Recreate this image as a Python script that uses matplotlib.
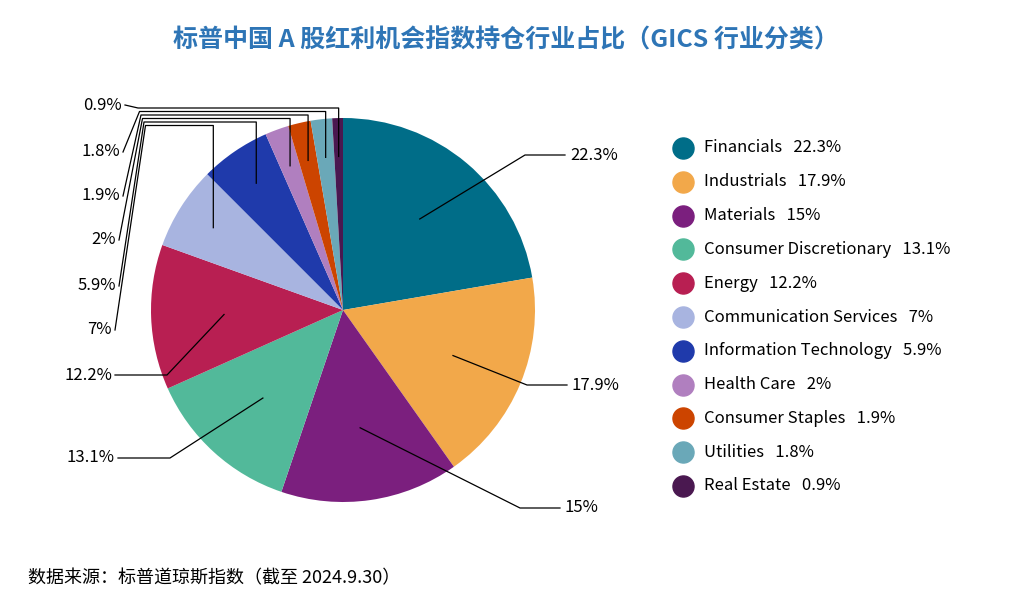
import numpy as np
import matplotlib.pyplot as plt

plt.rcParams['font.family'] = ['Noto Sans CJK SC', 'DejaVu Sans']

sectors = ["Financials", "Industrials", "Materials", "Consumer Discretionary", "Energy",
           "Communication Services", "Information Technology", "Health Care",
           "Consumer Staples", "Utilities", "Real Estate"]
shares = [22.3, 17.9, 15.0, 13.1, 12.2, 7.0, 5.9, 2.0, 1.9, 1.8, 0.9]
share_text = ["22.3%", "17.9%", "15%", "13.1%", "12.2%", "7%", "5.9%", "2%", "1.9%", "1.8%", "0.9%"]
colors = ["#006d88", "#f2a84a", "#7b1f7e", "#52b99a", "#b81f52", "#a8b4e0",
          "#1f3aab", "#b07fbf", "#cc4400", "#6aa8b8", "#4a1850"]

W, H = 1012, 608
fig = plt.figure(figsize=(W / 100, H / 100), dpi=100)
cx, cy, r = 343, 310, 192
ax = fig.add_axes([(cx - r) / W, 1 - (cy + r) / H, 2 * r / W, 2 * r / H])
wedges, _ = ax.pie(shares, colors=colors, startangle=90, counterclock=False,
                   radius=1.0, wedgeprops=dict(linewidth=0))
ax.set_xlim(-1, 1)
ax.set_ylim(-1, 1)
ax.set_aspect('equal')
ax.axis('off')

# overlay axes in pixel coordinates for leader lines and labels
ov = fig.add_axes([0, 0, 1, 1])
ov.set_xlim(0, W)
ov.set_ylim(H, 0)
ov.axis('off')

# big slices: (label x, label y, text anchor)
big_pos = {0: (570, 155, 'left'), 1: (572, 385, 'left'), 2: (565, 508, 'left'),
           3: (115, 458, 'right'), 4: (112, 375, 'right')}
small_pos = {5: (112, 330), 6: (116, 286), 7: (116, 240), 8: (120, 196),
             9: (120, 152), 10: (122, 105)}

for i, w in enumerate(wedges):
    mid = np.deg2rad((w.theta1 + w.theta2) / 2)
    if i in big_pos:
        ex = cx + 0.62 * r * np.cos(mid)
        ey = cy - 0.62 * r * np.sin(mid)
        lx, ly, ha = big_pos[i]
        if ha == 'left':
            kx = lx - 45
            ov.plot([ex, kx, lx - 5], [ey, ly, ly], color='black', lw=0.9)
            ov.text(lx, ly, share_text[i], ha='left', va='center', fontsize=12)
        else:
            kx = lx + 55
            ov.plot([ex, kx, lx + 3], [ey, ly, ly], color='black', lw=0.9)
            ov.text(lx, ly, share_text[i], ha='right', va='center', fontsize=12)
    else:
        ex = cx + 0.8 * r * np.cos(mid)
        ey = cy - 0.8 * r * np.sin(mid)
        lx, ly = small_pos[i]
        ty = 108 + (10 - i) * 3.5
        kx = 138 + (10 - i) * 1.5
        ov.plot([ex, ex, kx, lx + 3], [ey, ty, ty, ly], color='black', lw=0.9)
        ov.text(lx, ly, share_text[i], ha='right', va='center', fontsize=12)

# legend
for i, name in enumerate(sectors):
    y = 148 + i * 33.8
    ov.scatter([683], [y], s=230, color=colors[i], marker='o')
    ov.text(704, y, f"{name}   {share_text[i]}", ha='left', va='center', fontsize=12)

fig.text(0.5, 1 - 40 / H, "标普中国 A 股红利机会指数持仓行业占比（GICS 行业分类）",
         ha='center', va='center', fontsize=18, fontweight='bold', color='#2e75b6')
fig.text(28 / W, 1 - 578 / H, "数据来源：标普道琼斯指数（截至 2024.9.30）",
         ha='left', va='center', fontsize=13, color='black')

fig.savefig("out.png", dpi=100, facecolor='white')
